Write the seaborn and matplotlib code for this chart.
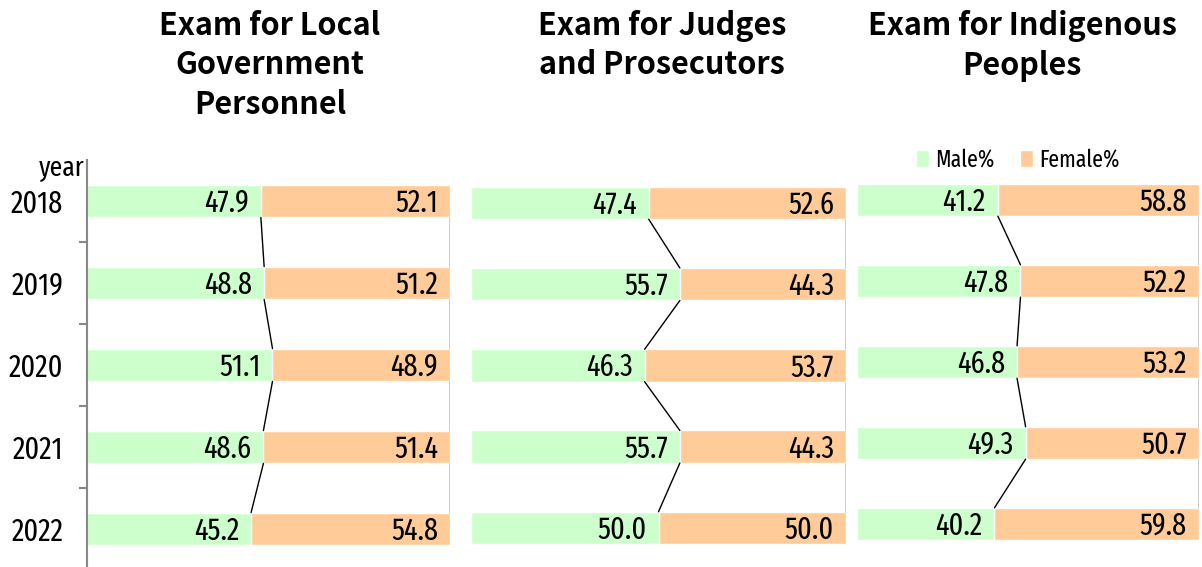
import numpy as np
import pandas as pd
import matplotlib
matplotlib.use("Agg")
import matplotlib.pyplot as plt
from matplotlib.ticker import FixedLocator
from matplotlib.patches import Patch
import seaborn as sns

# %%
years = ["2018", "2019", "2020", "2021", "2022"]
titles = [
    "Exam for Local\nGovernment\nPersonnel",
    "Exam for Judges\nand Prosecutors",
    "Exam for Indigenous\nPeoples",
]
male = [
    [47.9, 48.8, 51.1, 48.6, 45.2],
    [47.4, 55.7, 46.3, 55.7, 50.0],
    [41.2, 47.8, 46.8, 49.3, 40.2],
]
female = [
    [52.1, 51.2, 48.9, 51.4, 54.8],
    [52.6, 44.3, 53.7, 44.3, 50.0],
    [58.8, 52.2, 53.2, 50.7, 59.8],
]

# %%
sns.set_style("white")
narrow = ["Fira Sans Extra Condensed", "Archivo Narrow", "DejaVu Sans"]
plt.rcParams["font.family"] = narrow
plt.rcParams["text.color"] = "black"
plt.rcParams["ytick.labelcolor"] = "black"

W, H = 1202, 567
fig = plt.figure(figsize=(W / 100, H / 100), dpi=100)

# panel boxes in pixels: x0, x1, top, first centre, spacing
boxes = [
    (87, 450, 160, 201, 82.0),
    (471, 846, 162, 203, 81.25),
    (857, 1199, 159.5, 200, 81.0),
]
title_x = [270, 662, 1022]
green = "#CCFFCC"
orange = "#FFCC99"
bw = 0.4

for k in range(3):
    x0, x1, top, c0, sp = boxes[k]
    ax = fig.add_axes([x0 / W, 0, (x1 - x0) / W, (H - top) / H])
    df = pd.DataFrame({"year": years, "male": male[k], "female": female[k]})
    df["total"] = df["male"] + df["female"]
    sns.barplot(data=df, x="total", y="year", color=orange, width=bw,
                saturation=1, ax=ax, orient="h")
    sns.barplot(data=df, x="male", y="year", color=green, width=bw,
                saturation=1, ax=ax, orient="h")
    ax.set_xlim(0, 100)
    lo = -(c0 - top) / sp
    hi = 4 + (H - (c0 + 4 * sp)) / sp
    ax.set_ylim(hi, lo)
    ax.set_xlabel("")
    ax.set_ylabel("")
    ax.set_xticks([])
    ax.patch.set_alpha(0)

    # series lines
    for i in range(len(years) - 1):
        ax.plot([df["male"][i], df["male"][i + 1]], [i + bw / 2, i + 1 - bw / 2],
                color="black", lw=1)
        ax.plot([df["total"][i], df["total"][i + 1]], [i + bw / 2, i + 1 - bw / 2],
                color="black", lw=1)

    # value labels
    pad = 12 * 100 / (x1 - x0)
    for i in range(len(years)):
        ax.text(df["male"][i] - pad, i + 11 / sp, f"{df['male'][i]:.1f}",
                ha="right", va="baseline", fontsize=22)
        ax.text(df["total"][i] - pad, i + 11 / sp, f"{df['female'][i]:.1f}",
                ha="right", va="baseline", fontsize=22)

    for s in ["top", "right", "bottom"]:
        ax.spines[s].set_visible(False)
    if k == 0:
        ax.spines["left"].set_color("#888888")
        ax.spines["left"].set_linewidth(1.5)
        ax.yaxis.set_minor_locator(FixedLocator([0.5, 1.5, 2.5, 3.5]))
        ax.tick_params(axis="y", which="major", length=0, labelsize=22, pad=17)
        ax.tick_params(axis="y", which="minor", length=6, width=1.5,
                       color="#888888", left=True)
    else:
        ax.spines["left"].set_visible(False)
        ax.set_yticks([])

    fig.text(title_x[k] / W, 1 - 10 / H, titles[k], ha="center", va="top",
             fontsize=22, fontweight="bold", linespacing=1.3,
             family=["Noto Sans CJK TC", "DejaVu Sans"])

fig.text(84 / W, 1 - 175 / H, "year", ha="right", va="baseline", fontsize=20)

handles = [Patch(facecolor=green, label="Male%"), Patch(facecolor=orange, label="Female%")]
fig.legend(handles=handles, loc="center", bbox_to_anchor=(1018 / W, 1 - 160 / H),
           ncol=2, frameon=False, fontsize=17, handlelength=0.55, handleheight=0.7,
           handletextpad=0.25, columnspacing=1.1)

fig.savefig("out.png", dpi=100)
